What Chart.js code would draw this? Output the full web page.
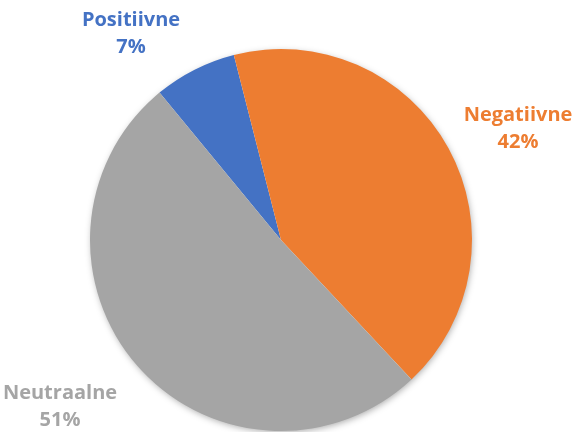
<!DOCTYPE html>
<html>
<head>
<meta charset="utf-8">
<script src="https://cdn.jsdelivr.net/npm/chart.js@4"></script>
<style>
  html, body { margin: 0; padding: 0; background: #fff; }
  #wrap { width: 586px; height: 432px; }
</style>
</head>
<body>
<div id="wrap"><canvas id="canvas" width="586" height="432"></canvas></div>
<script>
// data
const categories = ['Positiivne', 'Negatiivne', 'Neutraalne'];
const shares = [7, 42, 51];
const percentLabels = ['7%', '42%', '51%'];
const sliceColors = ['#4472C4', '#ED7D31', '#A5A5A5'];

// where each label sits (center x, top of first line)
const labelSpots = [
  { x: 131, y: 10 },
  { x: 518, y: 105 },
  { x: 60, y: 383 }
];

// soft shadow under the whole pie
const pieShadow = {
  id: 'pieShadow',
  beforeDatasetsDraw(chart) {
    const arc = chart.getDatasetMeta(0).data[0];
    if (!arc) return;
    const ctx = chart.ctx;
    ctx.save();
    ctx.shadowColor = 'rgba(0,0,0,0.35)';
    ctx.shadowBlur = 7;
    ctx.shadowOffsetX = 1;
    ctx.shadowOffsetY = 2;
    ctx.fillStyle = '#fff';
    ctx.beginPath();
    ctx.arc(arc.x, arc.y, arc.outerRadius - 1, 0, Math.PI * 2);
    ctx.fill();
    ctx.restore();
  }
};

const outsideLabels = {
  id: 'outsideLabels',
  afterDatasetsDraw(chart) {
    const ctx = chart.ctx;
    ctx.save();
    ctx.font = 'bold 20px "Open Sans", sans-serif';
    ctx.textAlign = 'center';
    ctx.textBaseline = 'alphabetic';
    categories.forEach((name, i) => {
      const spot = labelSpots[i];
      ctx.fillStyle = sliceColors[i];
      ctx.fillText(name, spot.x, spot.y + 16);
      ctx.fillText(percentLabels[i], spot.x, spot.y + 43);
    });
    ctx.restore();
  }
};

const ctx = document.getElementById('canvas').getContext('2d');

new Chart(ctx, {
  type: 'pie',
  data: {
    labels: categories,
    datasets: [{
      data: shares,
      backgroundColor: sliceColors,
      borderWidth: 0
    }]
  },
  options: {
    responsive: false,
    animation: false,
    rotation: -39.5,
    layout: {
      padding: { top: 49, bottom: 1, left: 90, right: 114 }
    },
    plugins: {
      legend: { display: false },
      tooltip: { enabled: false }
    }
  },
  plugins: [pieShadow, outsideLabels]
});
</script>
</body>
</html>
